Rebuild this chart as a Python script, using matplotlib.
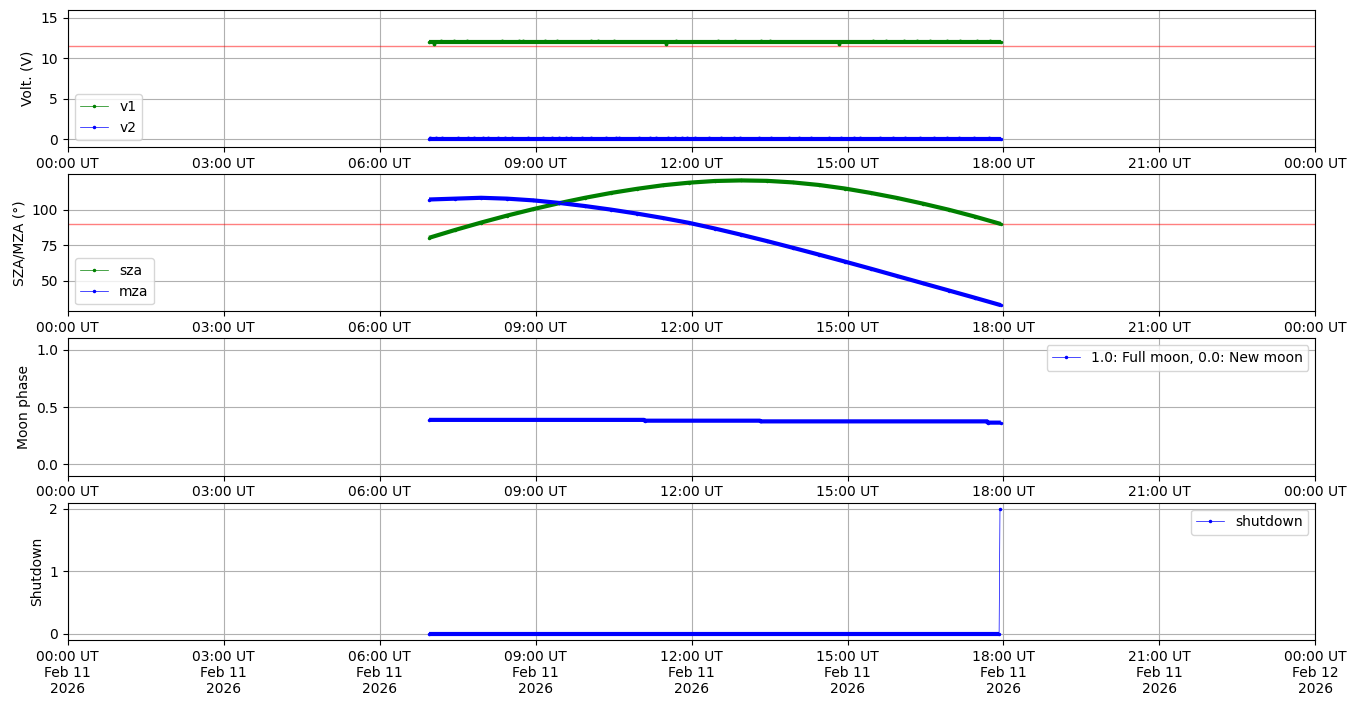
import numpy as np
import pandas as pd
import matplotlib
matplotlib.use("Agg")
import matplotlib.pyplot as plt
import matplotlib.dates as mdates

DAY = "2026-02-11"

# ---------------- data ----------------
# Panel 1: voltages (steady level) plus isolated outlier samples
volt_times = ["06:57", "17:57"]
v1 = [12.0, 12.0]
v2 = [0.0, 0.0]
v1_spike_times = ["07:03", "07:11", "07:26", "07:41", "08:21", "08:41", "08:45", "09:11", "09:25",
                  "10:04", "10:12", "10:30", "11:30", "11:42", "12:30", "12:50", "13:20", "13:30",
                  "14:50", "15:30", "15:45", "16:05", "16:20", "16:35", "16:55", "17:10", "17:30",
                  "17:45"]
v1_spikes = [11.8, 12.2, 12.2, 12.2, 12.2, 12.2, 12.2, 12.2, 12.2,
             12.2, 12.2, 12.2, 11.8, 12.2, 12.2, 12.2, 12.2, 12.2,
             11.8, 12.2, 12.2, 12.2, 12.2, 12.2, 12.2, 12.2, 12.2,
             12.2]
v2_spike_times = ["06:58", "07:05", "07:12", "07:30", "07:42", "07:49", "07:59", "08:05", "08:17",
                  "08:25", "08:33", "08:51", "09:08", "09:19", "09:27", "09:35", "09:41", "09:54",
                  "10:04", "10:21", "10:33", "10:36", "10:59", "11:12", "11:19", "11:33", "11:41",
                  "11:49", "11:55", "12:04", "12:20", "12:34", "12:49", "12:56", "13:18", "13:32",
                  "13:53", "14:04", "14:18", "14:39", "14:53", "15:08", "15:15", "15:37", "15:52",
                  "16:06", "16:24", "16:40", "16:55", "17:09", "17:26", "17:43"]
v2_spikes = [0.15] * 52
volt_limit = 11.5

# Panel 2: solar / moon zenith angles, 30-minute samples
angle_times = ["06:57", "07:27", "07:57", "08:27", "08:57", "09:27", "09:57", "10:27",
               "10:57", "11:27", "11:57", "12:27", "12:57", "13:27", "13:57", "14:27",
               "14:57", "15:27", "15:57", "16:27", "16:57", "17:27", "17:57"]
sza = [80.3, 85.8, 91.0, 95.9, 100.4, 104.6, 108.4, 111.8,
       114.7, 117.2, 119.0, 120.2, 120.6, 120.3, 119.2, 117.4,
       114.9, 111.8, 108.3, 104.3, 100.0, 95.2, 90.0]
mza = [107.2, 107.8, 108.4, 107.8, 106.6, 104.8, 102.6, 100.1,
       97.3, 94.2, 90.8, 86.8, 82.5, 78.0, 73.3, 68.5,
       63.6, 58.6, 53.5, 48.4, 43.3, 38.2, 33.0]
angle_limit = 90

# Panel 3: moon phase
phase_times = ["06:57", "11:05", "11:06", "13:19", "13:20", "17:41", "17:42", "17:57"]
moon_phase = [0.388, 0.388, 0.381, 0.381, 0.375, 0.375, 0.364, 0.364]

# Panel 4: shutdown flag
shut_times = ["06:57", "17:55", "17:56"]
shutdown = [0, 0, 2]


def to_dt(ts):
    return pd.to_datetime([f"{DAY} {t}" for t in ts])


# ---------------- figure ----------------
fig, axes = plt.subplots(4, 1, figsize=(13.56, 7.07), dpi=100)
fig.subplots_adjust(left=0.050, right=0.970, top=0.986, bottom=0.0948, hspace=0.197)

THICK = dict(lw=3.0, solid_capstyle="butt", zorder=2)
THIN = dict(lw=0.5, marker=".", ms=3, zorder=3)
DOTS = dict(ls="none", marker=".", ms=3.5, zorder=3)

ax = axes[0]
ax.axhline(volt_limit, color="red", alpha=0.5, lw=1)
ax.plot(to_dt(volt_times), v1, color="green", **THICK)
ax.plot(to_dt(v1_spike_times), v1_spikes, color="green", **DOTS)
ax.plot(to_dt(volt_times), v1, color="green", label="v1", **THIN)
ax.plot(to_dt(volt_times), v2, color="blue", **THICK)
ax.plot(to_dt(v2_spike_times), v2_spikes, color="blue", **DOTS)
ax.plot(to_dt(volt_times), v2, color="blue", label="v2", **THIN)
ax.set_ylim(-1, 16)
ax.set_ylabel("Volt. (V)")
ax.legend(loc="lower left")

ax = axes[1]
t_ang = to_dt(angle_times)
ax.axhline(angle_limit, color="red", alpha=0.5, lw=1)
ax.plot(t_ang, sza, color="green", **THICK)
ax.plot(t_ang, sza, color="green", label="sza", **THIN)
ax.plot(t_ang, mza, color="blue", **THICK)
ax.plot(t_ang, mza, color="blue", label="mza", **THIN)
ax.set_ylabel("SZA/MZA (°)")
ax.legend(loc="lower left")

ax = axes[2]
t_phase = to_dt(phase_times)
ax.plot(t_phase, moon_phase, color="blue", **THICK)
ax.plot(t_phase, moon_phase, color="blue", label="1.0: Full moon, 0.0: New moon", **THIN)
ax.set_ylim(-0.1, 1.1)
ax.set_ylabel("Moon phase")
ax.legend(loc="upper right")

ax = axes[3]
t_shut = to_dt(shut_times)
shut_arr = np.array(shutdown)
zero_mask = shut_arr == 0
ax.plot(t_shut[zero_mask], shut_arr[zero_mask], color="blue", **THICK)
ax.plot(t_shut, shut_arr, color="blue", label="shutdown", **THIN)
ax.set_ylabel("Shutdown")
ax.legend(loc="upper right")

x0 = pd.Timestamp(f"{DAY} 00:00")
x1 = pd.Timestamp("2026-02-12 00:00")
for i, ax in enumerate(axes):
    ax.set_xlim(x0, x1)
    ax.xaxis.set_major_locator(mdates.HourLocator(interval=3))
    if i < 3:
        ax.xaxis.set_major_formatter(mdates.DateFormatter("%H:%M UT"))
    else:
        ax.xaxis.set_major_formatter(mdates.DateFormatter("%H:%M UT\n%b %d\n%Y"))
    ax.grid(True)
    for lbl in ax.get_xticklabels():
        lbl.set_rotation(0)
        lbl.set_ha("center")

fig.savefig("out.png", dpi=100)
